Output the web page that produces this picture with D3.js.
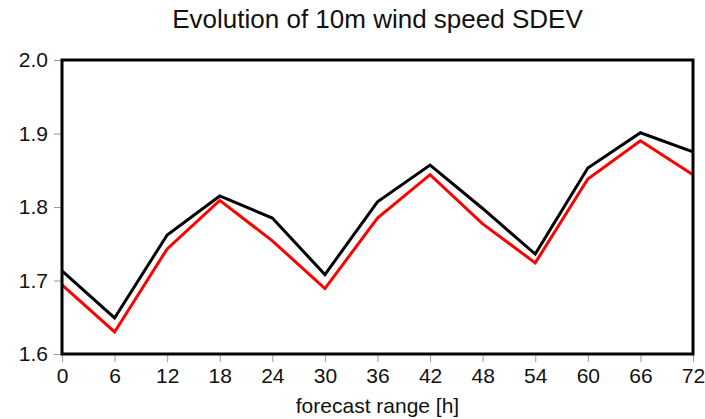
<!DOCTYPE html>
<html>
<head>
<meta charset="utf-8">
<script src="https://cdn.jsdelivr.net/npm/d3@7"></script>
<style>
  html, body { margin: 0; padding: 0; background: #fff; }
  svg { display: block; font-family: "Liberation Sans", Arial, sans-serif; }
</style>
</head>
<body>
<div id="chart"></div>
<script>
// forecast hours and the two SDEV curves (black = reference run, red = experiment)
const hours = [0, 6, 12, 18, 24, 30, 36, 42, 48, 54, 60, 66, 72];
const sdevBlack = [1.713, 1.649, 1.762, 1.815, 1.785, 1.708, 1.807, 1.857, 1.798, 1.736, 1.853, 1.901, 1.875];
const sdevRed = [1.694, 1.630, 1.743, 1.809, 1.754, 1.689, 1.785, 1.844, 1.777, 1.724, 1.838, 1.890, 1.844];
const yTicks = [1.6, 1.7, 1.8, 1.9, 2.0];

const width = 705, height = 419;
const margin = { top: 60, right: 12, bottom: 65, left: 62 };

const svg = d3.select("#chart").append("svg")
  .attr("width", width)
  .attr("height", height);

const x = d3.scaleLinear().domain([0, 72]).range([margin.left, width - margin.right]);
const y = d3.scaleLinear().domain([1.6, 2.0]).range([height - margin.bottom, margin.top]);

// title
svg.append("text")
  .attr("x", (margin.left + width - margin.right) / 2)
  .attr("y", 28)
  .attr("text-anchor", "middle")
  .attr("font-size", 26)
  .attr("fill", "#111")
  .text("Evolution of 10m wind speed SDEV");

// axes: gray outward ticks, frame drawn separately
svg.append("g")
  .attr("transform", `translate(0,${height - margin.bottom})`)
  .call(d3.axisBottom(x).tickValues(hours).tickSize(8).tickPadding(6).tickFormat(d3.format("d")))
  .call(g => g.select(".domain").remove())
  .call(g => g.selectAll("line").attr("stroke", "#999"))
  .call(g => g.selectAll("text").attr("font-size", 21).attr("fill", "#111").attr("font-family", null));

svg.append("g")
  .attr("transform", `translate(${margin.left},0)`)
  .call(d3.axisLeft(y).tickValues(yTicks).tickSize(8).tickPadding(6).tickFormat(d3.format(".1f")))
  .call(g => g.select(".domain").remove())
  .call(g => g.selectAll("line").attr("stroke", "#999"))
  .call(g => g.selectAll("text").attr("font-size", 21).attr("fill", "#111").attr("font-family", null));

svg.append("text")
  .attr("x", (margin.left + width - margin.right) / 2)
  .attr("y", 413)
  .attr("text-anchor", "middle")
  .attr("font-size", 21)
  .attr("fill", "#111")
  .text("forecast range [h]");

const line = d3.line().x((d, i) => x(hours[i])).y(d => y(d));

svg.append("path")
  .datum(sdevRed)
  .attr("fill", "none")
  .attr("stroke", "#ff0000")
  .attr("stroke-width", 3)
  .attr("d", line);

svg.append("path")
  .datum(sdevBlack)
  .attr("fill", "none")
  .attr("stroke", "#000")
  .attr("stroke-width", 3)
  .attr("d", line);

// plot frame
svg.append("rect")
  .attr("x", margin.left)
  .attr("y", margin.top)
  .attr("width", width - margin.left - margin.right)
  .attr("height", height - margin.top - margin.bottom)
  .attr("fill", "none")
  .attr("stroke", "#000")
  .attr("stroke-width", 3);
</script>
</body>
</html>
